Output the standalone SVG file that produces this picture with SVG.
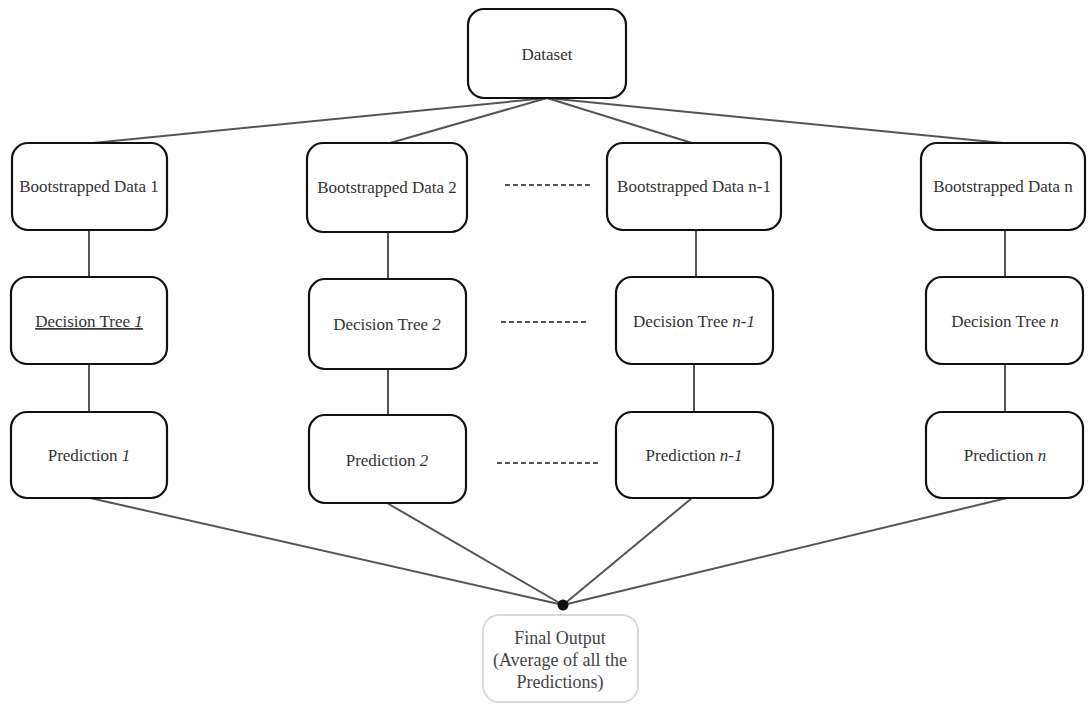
<svg xmlns="http://www.w3.org/2000/svg" width="1091" height="705" viewBox="0 0 1091 705">
<style>
.box{fill:#fff;stroke:#111;stroke-width:2.2}
.fbox{fill:#fff;stroke:#d8d8d8;stroke-width:1.8}
.t{font-family:"Liberation Serif","Times New Roman",serif;font-size:17px;fill:#333;text-anchor:middle}
.ft{font-family:"Liberation Serif","Times New Roman",serif;font-size:18px;fill:#444;text-anchor:middle}
.c{stroke:#555;stroke-width:2;fill:none}
.d{stroke:#555;stroke-width:2;fill:none;stroke-dasharray:5 3}
</style>
<rect width="1091" height="705" fill="#fff"/>
<g id="connectors">
<line class="c" x1="547" y1="98" x2="93" y2="143"/>
<line class="c" x1="547" y1="98" x2="390" y2="143"/>
<line class="c" x1="547" y1="98" x2="692" y2="143"/>
<line class="c" x1="547" y1="98" x2="1003" y2="143"/>
<line class="c" x1="89" y1="230" x2="89" y2="277"/>
<line class="c" x1="388" y1="232" x2="388" y2="279"/>
<line class="c" x1="696" y1="230" x2="696" y2="277"/>
<line class="c" x1="1005" y1="230" x2="1005" y2="277"/>
<line class="c" x1="89" y1="364" x2="89" y2="412"/>
<line class="c" x1="388" y1="369" x2="388" y2="415"/>
<line class="c" x1="694" y1="364" x2="694" y2="412"/>
<line class="c" x1="1005" y1="364" x2="1005" y2="412"/>
<line class="c" x1="90" y1="498" x2="563" y2="605"/>
<line class="c" x1="387" y1="503" x2="563" y2="605"/>
<line class="c" x1="692" y1="498" x2="563" y2="605"/>
<line class="c" x1="1007" y1="498" x2="563" y2="605"/>
<line class="d" x1="505" y1="185" x2="592" y2="185"/>
<line class="d" x1="501" y1="322" x2="589" y2="322"/>
<line class="d" x1="497" y1="463" x2="598" y2="463"/>
<circle cx="563" cy="605" r="5.5" fill="#111"/>
</g>
<g id="dataset"><rect class="box" x="468" y="9" width="158" height="89" rx="16"/><text class="t" x="547" y="60">Dataset</text></g>
<g id="bd1"><rect class="box" x="12" y="143" width="155" height="87" rx="16"/><text class="t" x="89" y="192">Bootstrapped Data 1</text></g>
<g id="bd2"><rect class="box" x="307" y="143" width="160" height="89" rx="16"/><text class="t" x="387" y="193">Bootstrapped Data 2</text></g>
<g id="bdn1"><rect class="box" x="607" y="143" width="174" height="87" rx="16"/><text class="t" x="694" y="192">Bootstrapped Data n-1</text></g>
<g id="bdn"><rect class="box" x="921" y="143" width="164" height="87" rx="16"/><text class="t" x="1003" y="192">Bootstrapped Data n</text></g>
<g id="dt1"><rect class="box" x="11" y="277" width="156" height="87" rx="16"/><text class="t" x="89" y="327" text-decoration="underline">Decision Tree <tspan font-style="italic">1</tspan></text></g>
<g id="dt2"><rect class="box" x="309" y="279" width="157" height="90" rx="16"/><text class="t" x="387" y="330">Decision Tree <tspan font-style="italic">2</tspan></text></g>
<g id="dtn1"><rect class="box" x="616" y="277" width="157" height="87" rx="16"/><text class="t" x="694" y="327">Decision Tree <tspan font-style="italic">n-1</tspan></text></g>
<g id="dtn"><rect class="box" x="926" y="277" width="157" height="87" rx="16"/><text class="t" x="1005" y="327">Decision Tree <tspan font-style="italic">n</tspan></text></g>
<g id="p1"><rect class="box" x="11" y="412" width="156" height="86" rx="16"/><text class="t" x="89" y="461">Prediction <tspan font-style="italic">1</tspan></text></g>
<g id="p2"><rect class="box" x="309" y="415" width="157" height="88" rx="16"/><text class="t" x="387" y="466">Prediction <tspan font-style="italic">2</tspan></text></g>
<g id="pn1"><rect class="box" x="616" y="412" width="157" height="86" rx="16"/><text class="t" x="694" y="461">Prediction <tspan font-style="italic">n-1</tspan></text></g>
<g id="pn"><rect class="box" x="926" y="412" width="157" height="86" rx="16"/><text class="t" x="1005" y="461">Prediction <tspan font-style="italic">n</tspan></text></g>
<g id="final"><rect class="fbox" x="483" y="615" width="155" height="87" rx="16"/>
<text class="ft" x="560" y="644">Final Output</text>
<text class="ft" x="560" y="666">(Average of all the</text>
<text class="ft" x="560" y="688">Predictions)</text></g>
</svg>
